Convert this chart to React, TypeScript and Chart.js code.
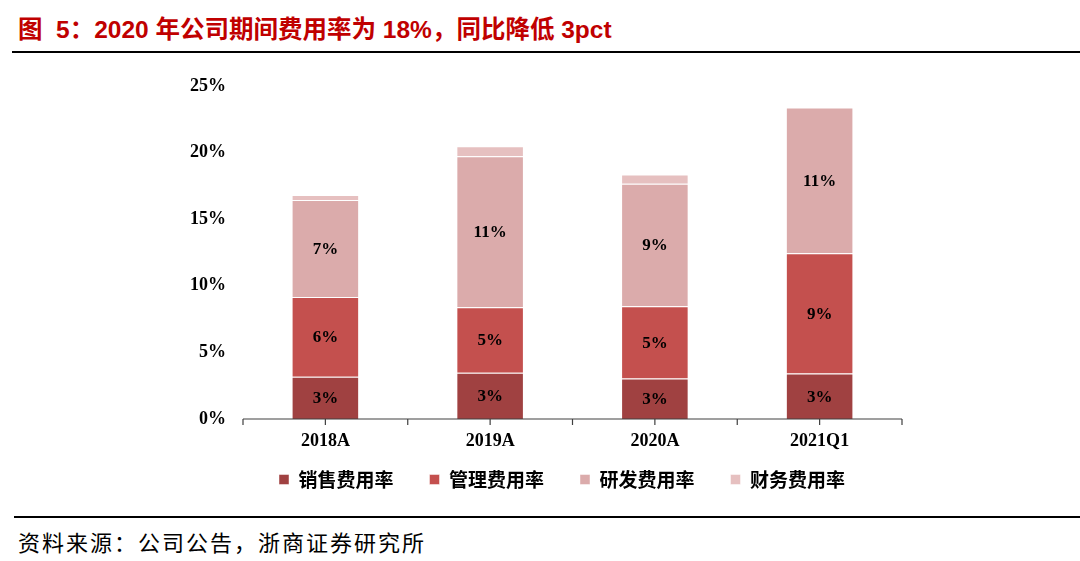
import React, { useEffect, useRef } from "react";
import { Chart, registerables } from "chart.js";

Chart.register(...registerables);

const categories = ["2018A", "2019A", "2020A", "2021Q1"];
const salesRate = [3.17, 3.48, 3.04, 3.42];
const adminRate = [5.99, 4.91, 5.42, 9.02];
const rdRate = [7.28, 11.33, 9.21, 10.95];
const financeRate = [0.38, 0.75, 0.68, 0];
const seriesNames = ["销售费用率", "管理费用率", "研发费用率", "财务费用率"];
const yTicks = [0, 5, 10, 15, 20, 25];

const colors = ["#A04141", "#C4504E", "#DBABAB", "#E6C0C0"];

const serif = "'Liberation Serif', 'Times New Roman', serif";

const labelPlugin = {
  id: "segLabels",
  afterDatasetsDraw(chart: any) {
    const ctx = chart.ctx;
    ctx.save();
    ctx.font = `bold 17px ${serif}`;
    ctx.fillStyle = "#000";
    ctx.textAlign = "center";
    ctx.textBaseline = "middle";
    chart.data.datasets.forEach((ds: any, di: number) => {
      if (di > 2) return;
      const meta = chart.getDatasetMeta(di);
      meta.data.forEach((el: any, i: number) => {
        const { x, y, base } = el.getProps(["x", "y", "base"], true);
        const v = ds.data[i];
        ctx.fillText(Math.round(v) + "%", x, (y + base) / 2 + 1);
      });
    });
    ctx.restore();
  },
};

const tickMarkPlugin = {
  id: "xTickMarks",
  afterDraw(chart: any) {
    const xs = chart.scales.x;
    const ctx = chart.ctx;
    const n = categories.length;
    const yb = xs.top;
    ctx.save();
    ctx.strokeStyle = "#404040";
    ctx.lineWidth = 1.2;
    const step = (xs.right - xs.left) / n;
    ctx.beginPath();
    for (let i = 0; i < n; i++) {
      const c = xs.getPixelForValue(i);
      const b = c - step / 2;
      ctx.moveTo(b, yb);
      ctx.lineTo(b, yb + 6);
      ctx.moveTo(c, yb);
      ctx.lineTo(c, yb + 6);
    }
    ctx.moveTo(xs.right, yb);
    ctx.lineTo(xs.right, yb + 6);
    ctx.moveTo(xs.left, yb);
    ctx.lineTo(xs.right, yb);
    ctx.stroke();
    ctx.restore();
  },
};

const legendShiftPlugin = {
  id: "legendShift",
  afterLayout(chart: any) {
    const lg = chart.legend;
    if (!lg) return;
    lg.top -= 21;
    lg.bottom -= 21;
  },
};

export default function App() {
  const ref = useRef<HTMLCanvasElement>(null);

  useEffect(() => {
    if (!ref.current) return;
    const data = [salesRate, adminRate, rdRate, financeRate];
    const chart = new Chart(ref.current, {
      type: "bar",
      data: {
        labels: categories,
        datasets: data.map((d, i) => ({
          label: seriesNames[i],
          data: d,
          backgroundColor: colors[i],
          borderColor: "rgba(255,255,255,0.45)",
          borderWidth: 1,
          categoryPercentage: 1,
          barPercentage: 0.41,
        })),
      },
      options: {
        responsive: false,
        animation: false,
        layout: { padding: { top: 28, right: 178, left: 0, bottom: 0 } },
        plugins: {
          tooltip: { enabled: false },
          legend: {
            position: "bottom",
            align: "start",
            fullSize: false,
            labels: {
              boxWidth: 10,
              boxHeight: 10,
              padding: 36,
              color: "#000",
              font: { family: "'Noto Sans CJK SC', sans-serif", size: 19, weight: "bold" },
            },
          },
        },
        scales: {
          x: {
            stacked: true,
            grid: { display: false },
            border: { display: false },
            ticks: {
              color: "#000",
              padding: 4,
              font: { family: serif, size: 18, weight: "bold" },
            },
            afterFit: (s: any) => {
              s.height = 36;
            },
          },
          y: {
            stacked: true,
            min: 0,
            max: 25,
            afterBuildTicks: (s: any) => {
              s.ticks = yTicks.map((v) => ({ value: v }));
            },
            grid: { display: false },
            border: { display: false },
            ticks: {
              color: "#000",
              padding: 9,
              font: { family: serif, size: 18, weight: "bold" },
              callback: (v: any) => v + "%",
            },
            afterFit: (s: any) => {
              s.width = 243;
            },
          },
        },
      },
      plugins: [labelPlugin, tickMarkPlugin, legendShiftPlugin],
    });
    return () => chart.destroy();
  }, []);

  return (
    <div style={{ position: "absolute", left: 0, top: 0, width: 1080, height: 561, background: "#fff", overflow: "hidden" }}>
      <div
        style={{
          position: "absolute",
          left: 18,
          top: 13,
          fontFamily: "'Liberation Sans', Arial, 'Noto Sans CJK SC', sans-serif",
          fontWeight: "bold",
          fontSize: 24.5,
          lineHeight: "34px",
          color: "#C00000",
          whiteSpace: "pre",
        }}
      >
        图  5：2020 年公司期间费用率为 18%，同比降低 3pct
      </div>
      <div style={{ position: "absolute", left: 12, top: 51, width: 1068, height: 2, background: "#000" }} />
      <canvas
        ref={ref}
        width={1080}
        height={462}
        style={{ position: "absolute", left: 0, top: 58, width: 1080, height: 462 }}
      />
      <div style={{ position: "absolute", left: 14, top: 516, width: 1066, height: 2, background: "#000", zIndex: 2 }} />
      <div
        style={{
          position: "absolute",
          left: 18,
          top: 525,
          fontFamily: "'Noto Sans CJK SC', serif",
          fontSize: 22,
          letterSpacing: 2,
          lineHeight: "32px",
          color: "#000",
          whiteSpace: "pre",
          zIndex: 2,
        }}
      >
        资料来源：公司公告，浙商证券研究所
      </div>
    </div>
  );
}
